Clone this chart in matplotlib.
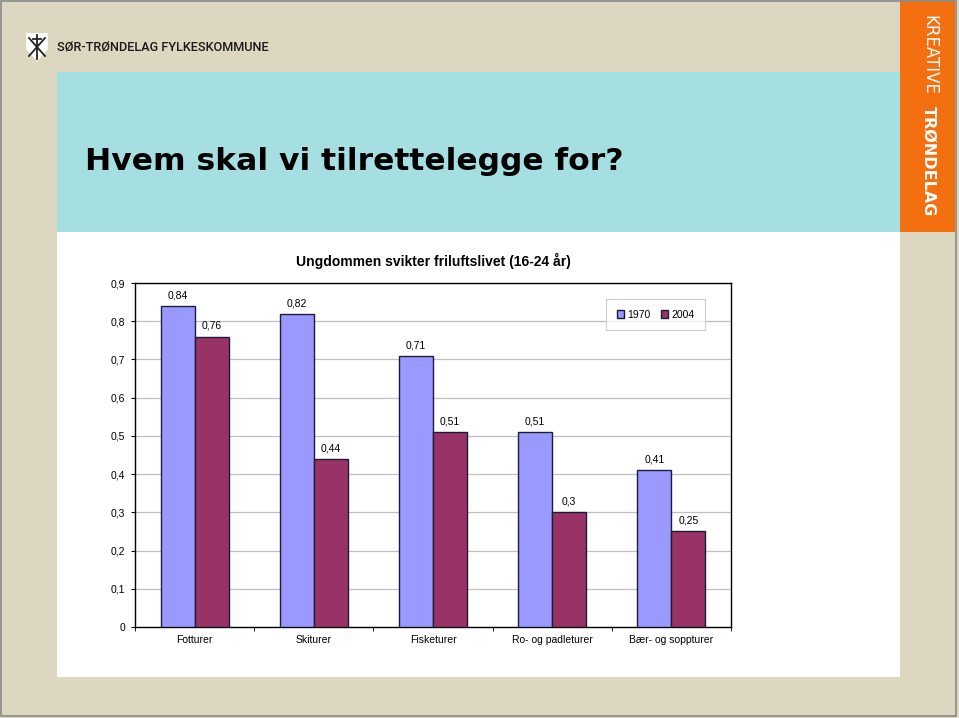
import matplotlib.pyplot as plt
from matplotlib.patches import Rectangle, Polygon

# data
categories = ["Fotturer", "Skiturer", "Fisketurer", "Ro- og padleturer", "Bær- og soppturer"]
series_names = ["1970", "2004"]
values_1970 = [0.84, 0.82, 0.71, 0.51, 0.41]
values_2004 = [0.76, 0.44, 0.51, 0.30, 0.25]
y_ticks = [0, 0.1, 0.2, 0.3, 0.4, 0.5, 0.6, 0.7, 0.8, 0.9]

W, H = 959, 718
BEIGE = "#ddd7c1"
TEAL = "#a5dfe1"
ORANGE = "#f36f10"
BLUE = "#9999ff"
PLUM = "#993366"
EDGE = "#1c1c3a"

plt.rcParams["font.family"] = ["Liberation Sans", "DejaVu Sans"]


def fx(px):
    return px / W


def fy(py):
    # pixel y from top -> figure fraction from bottom
    return 1 - py / H


def fmt(v):
    s = f"{v:.2f}".rstrip("0").rstrip(".")
    return s.replace(".", ",")


fig = plt.figure(figsize=(W / 100, H / 100), dpi=100)
fig.patch.set_facecolor(BEIGE)

# slide background pieces (kept below the chart axes)
fig.patches.append(Rectangle((fx(57), fy(232)), fx(900 - 57), (232 - 72) / H,
                             transform=fig.transFigure, facecolor=TEAL, edgecolor="none", zorder=-10))
fig.patches.append(Rectangle((fx(57), fy(677)), fx(900 - 57), (677 - 232) / H,
                             transform=fig.transFigure, facecolor="white", edgecolor="none", zorder=-10))
fig.patches.append(Rectangle((fx(900), fy(232)), fx(955 - 900), 232 / H,
                             transform=fig.transFigure, facecolor=ORANGE, edgecolor="none", zorder=-10))
fig.patches.append(Rectangle((fx(1), fy(716)), fx(955), 715 / H,
                             transform=fig.transFigure, facecolor="none", edgecolor="#8a8a8a",
                             linewidth=1.2, zorder=-9))

# logo: small white shield with a dark cross
shield = [(26, 33), (48, 33), (48, 49), (37, 61), (26, 49)]
fig.patches.append(Polygon([(fx(x), fy(y)) for x, y in shield], closed=True,
                           transform=fig.transFigure, facecolor="white", edgecolor="none", zorder=-8))
for (x0, y0, x1, y1) in [(37, 35, 37, 59), (33, 39, 41, 39), (29, 38, 45, 56), (45, 38, 29, 56)]:
    fig.add_artist(plt.Line2D([fx(x0), fx(x1)], [fy(y0), fy(y1)], transform=fig.transFigure,
                              color="#222222", linewidth=1.3, zorder=-7))
fig.text(fx(57), fy(47), "SØR-TRØNDELAG FYLKESKOMMUNE", fontsize=9.2, color="#1a1a1a",
         family=["Roboto", "DejaVu Sans"], fontweight="medium", va="center", ha="left")

# orange strip text
fig.text(fx(929), fy(15), "KREATIVE", rotation=-90, color="white", fontsize=12,
         family=["DejaVu Sans"], ha="center", va="top")
fig.text(fx(929), fy(106), "TRØNDELAG", rotation=-90, color="white", fontsize=11.5, fontweight="bold",
         family=["DejaVu Sans"], ha="center", va="top")

# slide title
fig.text(fx(85), fy(170), "Hvem skal vi tilrettelegge for?", fontsize=22.6, fontweight="bold",
         family=["DejaVu Sans"], ha="left", va="baseline", color="black")

# chart
ax = fig.add_axes([fx(135), fy(627), fx(731 - 135), (627 - 283) / H])
ax.set_facecolor("white")

x = list(range(len(categories)))
bw = 0.286
b1 = ax.bar([i - bw / 2 for i in x], values_1970, bw, color=BLUE, edgecolor=EDGE,
            linewidth=1.0, label=series_names[0], zorder=3)
b2 = ax.bar([i + bw / 2 for i in x], values_2004, bw, color=PLUM, edgecolor=EDGE,
            linewidth=1.0, label=series_names[1], zorder=3)

for bars, vals in [(b1, values_1970), (b2, values_2004)]:
    for rect, v in zip(bars, vals):
        ax.annotate(fmt(v), (rect.get_x() + rect.get_width() / 2, v), xytext=(0, 4),
                    textcoords="offset points", ha="center", va="bottom", fontsize=7.5)

ax.set_xlim(-0.5, len(categories) - 0.5)
ax.set_ylim(0, 0.9)
ax.set_yticks(y_ticks)
ax.set_yticklabels([fmt(t) for t in y_ticks], fontsize=7.5)
ax.set_xticks(x)
ax.set_xticklabels(categories, fontsize=7.5)
ax.set_xticks([i + 0.5 for i in range(-1, len(categories))], minor=True)
ax.tick_params(axis="x", which="major", length=0, pad=6)
ax.tick_params(axis="x", which="minor", length=3, direction="out")
ax.tick_params(axis="y", length=3, direction="out", pad=4)
ax.grid(axis="y", color="#c0c0c0", linewidth=0.9, zorder=0)
ax.set_axisbelow(True)
for s in ax.spines.values():
    s.set_color("black")
    s.set_linewidth(1.0)

ax.set_title("Ungdommen svikter friluftslivet (16-24 år)", fontsize=10, fontweight="bold", pad=12)

leg = ax.legend(loc="upper right", bbox_to_anchor=((710 - 135) / (731 - 135), (627 - 294) / (627 - 283)),
                ncol=2, fontsize=7.5, frameon=True, fancybox=False, handlelength=0.7,
                handleheight=0.7, handletextpad=0.3, columnspacing=1.0, borderpad=1.0)
leg.get_frame().set_edgecolor("#c0c0c0")
leg.get_frame().set_linewidth(0.8)

fig.savefig("out.png", dpi=100, facecolor=fig.get_facecolor())
